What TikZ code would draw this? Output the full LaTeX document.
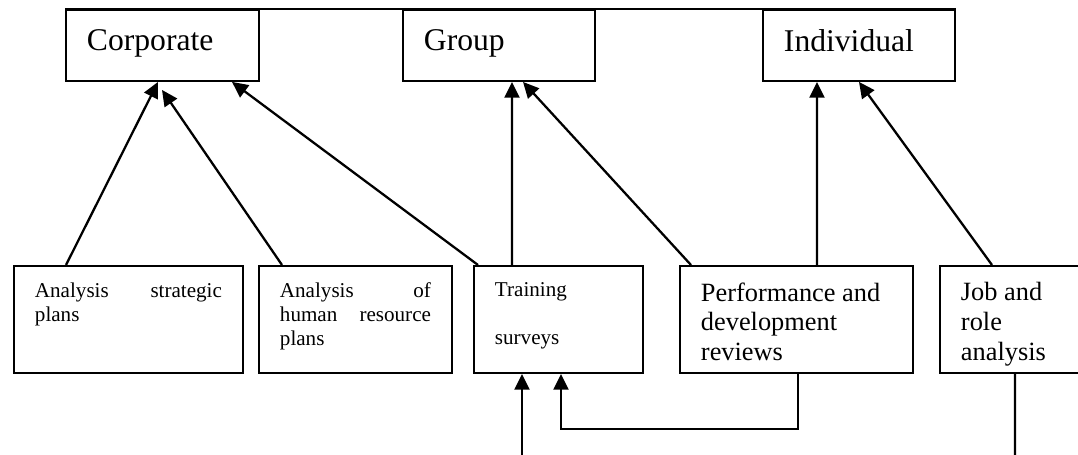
\documentclass[tikz,border=0pt]{standalone}
\usepackage{fontspec}
\setmainfont{Liberation Serif}
\usetikzlibrary{arrows.meta}
\newcommand{\celltext}[4][0.33cm]{\parbox[t][#2][t]{#3}{\vspace*{#1}#4}}

\begin{document}
\begin{tikzpicture}[
  box/.style={draw,line width=1.1pt,anchor=north west,inner xsep=0.42cm,inner ysep=0pt},
  arr/.style={line width=1.3pt,-{Triangle[length=9pt,width=8.5pt]}}]
\useasboundingbox (0,0) rectangle (21.56,-9.1);
\clip (0,0) rectangle (21.56,-9.1);
\coordinate (A) at (1.30,-0.18);
\coordinate (B) at (8.04,-0.18);
\coordinate (C) at (15.24,-0.18);
\coordinate (D) at (0.26,-5.30);
\coordinate (E) at (5.16,-5.30);
\coordinate (F) at (9.46,-5.30);
\coordinate (G) at (13.58,-5.30);
\coordinate (H) at (18.78,-5.30);
\coordinate (in1) at (10.44,-9.2);
\coordinate (out1) at (20.30,-9.2);
\node[box] (corp) at (A) {\celltext[0.40cm]{1.42cm}{3.02cm}{\fontsize{18}{21}\selectfont Corporate}};
\node[box] (group) at (B) {\celltext[0.40cm]{1.42cm}{3.0cm}{\fontsize{18}{21}\selectfont Group}};
\node[box] (indiv) at (C) {\celltext[0.40cm]{1.42cm}{3.0cm}{\fontsize{18}{21}\selectfont Individual}};
\node[box] (strat) at (D) {\celltext{2.14cm}{3.74cm}{\fontsize{12}{13.7}\selectfont Analysis strategic\linebreak plans}};
\node[box] (hr) at (E) {\celltext{2.14cm}{3.02cm}{\fontsize{12}{13.7}\selectfont Analysis of\linebreak human resource\linebreak plans}};
\node[box] (train) at (F) {\celltext{2.14cm}{2.54cm}{\fontsize{12}{13.7}\selectfont\raggedright Training\\[13.7pt]surveys}};
\node[box] (perf) at (G) {\celltext{2.14cm}{3.82cm}{\fontsize{15}{17}\selectfont\raggedright Performance and\\development\\reviews}};
\node[box] (job) at (H) {\celltext{2.14cm}{2.2cm}{\fontsize{15}{17}\selectfont\raggedright Job and\\role\\analysis}};
\draw[line width=1.1pt] (corp.north west) -- (indiv.north east);
\draw[arr] ([xshift=1.06cm]strat.north west) -- ([xshift=1.86cm]corp.south west);
\draw[arr] ([xshift=0.48cm]hr.north west) -- ([xshift=1.94cm,yshift=-0.16cm]corp.south west);
\draw[arr] ([xshift=0.10cm]train.north west) -- ([xshift=3.34cm]corp.south west);
\draw[arr] ([xshift=0.78cm]train.north west) -- ([xshift=2.20cm]group.south west);
\draw[arr] ([xshift=0.24cm]perf.north west) -- ([xshift=2.42cm]group.south west);
\draw[arr] ([xshift=2.76cm]perf.north west) -- ([xshift=1.10cm]indiv.south west);
\draw[arr] ([xshift=1.06cm]job.north west) -- ([xshift=1.94cm]indiv.south west);
\draw[arr] (in1) -- ([xshift=0.98cm]train.south west);
\draw[arr] ([xshift=2.38cm]perf.south west) -- ++(0,-1.1) -| ([xshift=1.76cm]train.south west);
\draw[line width=1.3pt] ([xshift=1.52cm]job.south west) -- (out1);
\end{tikzpicture}
\end{document}
